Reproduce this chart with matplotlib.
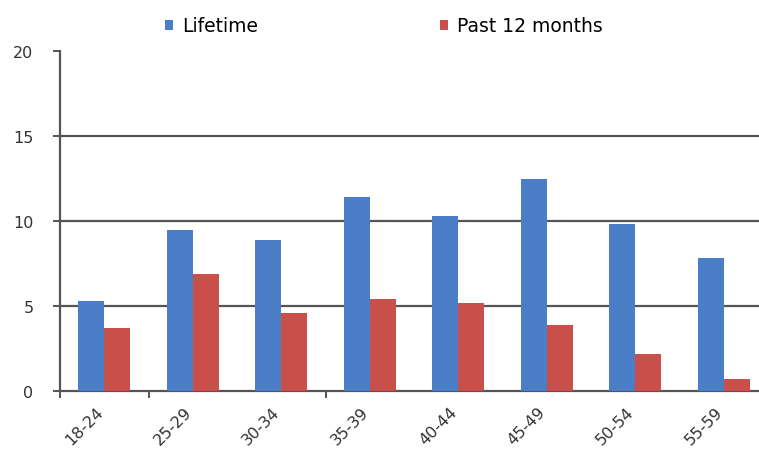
import matplotlib
matplotlib.use("Agg")
import matplotlib.pyplot as plt
import matplotlib.transforms as mtransforms
import numpy as np

categories = ["18-24", "25-29", "30-34", "35-39", "40-44", "45-49", "50-54", "55-59"]
lifetime = [5.3, 9.5, 8.9, 11.4, 10.3, 12.5, 9.8, 7.8]
past12 = [3.7, 6.9, 4.6, 5.4, 5.2, 3.9, 2.2, 0.7]
series_names = ["Lifetime", "Past 12 months"]
yticks = [0, 5, 10, 15, 20]

blue = "#4A7EC6"
red = "#C9504A"
axcol = "#555555"

fig = plt.figure(figsize=(7.59, 4.52), dpi=100)
W, H = 759, 452
left_px, right_px, bottom_px, top_px = 60, 768, 392, 52
ax = fig.add_axes([left_px / W, (H - bottom_px) / H,
                   (right_px - left_px) / W, (bottom_px - top_px) / H])

x = np.arange(len(categories))
w = 0.295
b1 = ax.bar(x - w / 2, lifetime, w, color=blue, label=series_names[0], zorder=3)
b2 = ax.bar(x + w / 2, past12, w, color=red, label=series_names[1], zorder=3)

ax.set_xlim(-0.5, len(categories) - 0.5)
ax.set_ylim(0, 20)
ax.set_yticks(yticks)
ax.set_yticklabels([str(v) for v in yticks], fontsize=11.5, color="#333333")
for v in yticks[1:-1]:
    ax.axhline(v, color=axcol, lw=1.6, zorder=1)

for s in ["top", "right"]:
    ax.spines[s].set_visible(False)
ax.spines["left"].set_color(axcol)
ax.spines["left"].set_linewidth(1.6)
ax.spines["bottom"].set_color(axcol)
ax.spines["bottom"].set_linewidth(1.6)
ax.tick_params(axis="y", direction="out", length=5, width=1.4, color=axcol, pad=14)

ax.set_xticks(x)
ax.set_xticklabels(categories, rotation=45, ha="right", rotation_mode="anchor",
                   fontsize=11.5, color="#333333")
ax.tick_params(axis="x", which="major", length=0, pad=9)
offset = mtransforms.ScaledTranslation(-9 / 100, 0, fig.dpi_scale_trans)
for lab in ax.get_xticklabels():
    lab.set_transform(lab.get_transform() + offset)
ax.set_xticks([-0.5, 0.5, 2.5], minor=True)
ax.tick_params(axis="x", which="minor", direction="out", length=5, width=1.4, color=axcol)

fig.legend(handles=[b1, b2], labels=series_names, loc="center left",
           bbox_to_anchor=(165 / W, 1 - 27 / H), ncol=2, frameon=False,
           fontsize=13.5, handlelength=0.45, handleheight=0.45, handletextpad=0.45,
           columnspacing=9.7, borderaxespad=0, borderpad=0)

fig.savefig("out.png", dpi=100)
